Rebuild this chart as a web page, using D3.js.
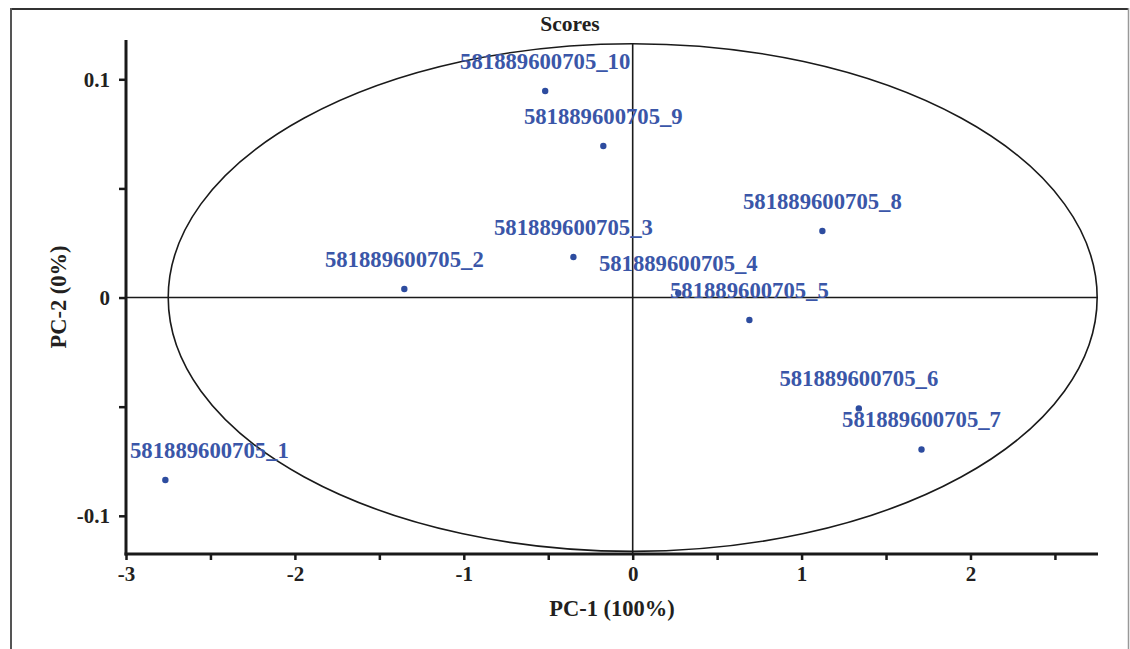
<!DOCTYPE html>
<html>
<head>
<meta charset="utf-8">
<script src="https://cdn.jsdelivr.net/npm/d3@7"></script>
<style>
  html, body { margin: 0; padding: 0; background: #fff; }
  svg { display: block; }
  text { font-family: "Liberation Serif", "Times New Roman", serif; font-weight: bold; }
</style>
</head>
<body>
<svg id="chart" width="1130" height="649"></svg>
<script>
// PCA score values (PC-1, PC-2) per sample
const sampleNames = [
  "581889600705_1", "581889600705_2", "581889600705_3", "581889600705_4", "581889600705_5",
  "581889600705_6", "581889600705_7", "581889600705_8", "581889600705_9", "581889600705_10"
];
const pc1Scores = [-2.767, -1.352, -0.351, 0.270, 0.691, 1.339, 1.710, 1.123, -0.174, -0.518];
const pc2Scores = [-0.0836, 0.0039, 0.0186, 0.0021, -0.0103, -0.0508, -0.0696, 0.0305, 0.0694, 0.0946];

// confidence ellipse radii
const ellipseRadiusX = 2.75;
const ellipseRadiusY = 0.1163;

const xTicks = [-3, -2.5, -2, -1.5, -1, -0.5, 0, 0.5, 1, 1.5, 2, 2.5];
const xTickLabels = ["-3", "", "-2", "", "-1", "", "0", "", "1", "", "2", ""];
const yTicks = [-0.1, -0.05, 0, 0.05, 0.1];
const yTickLabels = ["-0.1", "", "0", "", "0.1"];

const svg = d3.select("#chart");
const W = 1130, H = 649;
const plotLeft = 126, plotRight = 1098, plotTop = 40, plotBottom = 554;

const x = d3.scaleLinear().domain([-3, 2.755]).range([plotLeft, plotRight]);
const y = d3.scaleLinear().domain([-0.1175, 0.118]).range([plotBottom, plotTop]);

// outer frame
svg.append("line").attr("x1", 10).attr("y1", 9).attr("x2", 1129).attr("y2", 9)
  .attr("stroke", "#333").attr("stroke-width", 2);
svg.append("line").attr("x1", 11).attr("y1", 8).attr("x2", 11).attr("y2", H)
  .attr("stroke", "#555").attr("stroke-width", 2);
svg.append("line").attr("x1", 1128.5).attr("y1", 8).attr("x2", 1128.5).attr("y2", H)
  .attr("stroke", "#999").attr("stroke-width", 1.5);

// title
svg.append("text").attr("x", 570).attr("y", 31)
  .attr("text-anchor", "middle").attr("font-size", 21.5).attr("fill", "#231f20")
  .text("Scores");

// ellipse
svg.append("ellipse")
  .attr("cx", x(0)).attr("cy", y(0))
  .attr("rx", x(ellipseRadiusX) - x(0))
  .attr("ry", y(0) - y(ellipseRadiusY))
  .attr("fill", "none").attr("stroke", "#1a1a1a").attr("stroke-width", 1.6);

// zero lines
svg.append("line").attr("x1", plotLeft).attr("x2", plotRight).attr("y1", y(0)).attr("y2", y(0))
  .attr("stroke", "#1a1a1a").attr("stroke-width", 1.6);
svg.append("line").attr("x1", x(0)).attr("x2", x(0)).attr("y1", y(ellipseRadiusY)).attr("y2", plotBottom)
  .attr("stroke", "#1a1a1a").attr("stroke-width", 1.6);

// axes
const xAxis = d3.axisBottom(x).tickValues(xTicks)
  .tickFormat((d, i) => xTickLabels[i]).tickSizeInner(6).tickSizeOuter(0).tickPadding(6);
const gx = svg.append("g").attr("transform", `translate(0,${plotBottom})`).call(xAxis);
gx.select(".domain").attr("stroke", "#1a1a1a").attr("stroke-width", 3)
  .attr("d", `M${plotLeft - 1.5},0H${plotRight}`);
gx.selectAll(".tick line").attr("stroke", "#1a1a1a").attr("stroke-width", 2.5);
gx.selectAll(".tick text").attr("font-size", 21).attr("fill", "#231f20")
  .attr("font-family", "Liberation Serif").attr("font-weight", "bold")
  .attr("dy", "0.71em");

const yAxis = d3.axisLeft(y).tickValues(yTicks)
  .tickFormat((d, i) => yTickLabels[i]).tickSizeInner(7).tickSizeOuter(0).tickPadding(9);
const gy = svg.append("g").attr("transform", `translate(${plotLeft},0)`).call(yAxis);
gy.select(".domain").attr("stroke", "#1a1a1a").attr("stroke-width", 3)
  .attr("d", `M0,${plotTop}V${plotBottom + 1.5}`);
gy.selectAll(".tick line").attr("stroke", "#1a1a1a").attr("stroke-width", 2.5);
gy.selectAll(".tick text").attr("font-size", 21).attr("fill", "#231f20")
  .attr("font-family", "Liberation Serif").attr("font-weight", "bold");

// axis titles
svg.append("text").attr("x", (plotLeft + plotRight) / 2).attr("y", 616)
  .attr("text-anchor", "middle").attr("font-size", 22.5).attr("fill", "#231f20")
  .text("PC-1 (100%)");
svg.append("text")
  .attr("transform", `translate(66,${(plotTop + plotBottom) / 2}) rotate(-90)`)
  .attr("text-anchor", "middle").attr("font-size", 22.5).attr("fill", "#231f20")
  .text("PC-2 (0%)");

// sample points and labels
const samples = sampleNames.map((n, i) => ({ name: n, pc1: pc1Scores[i], pc2: pc2Scores[i] }));

svg.append("g").selectAll("circle").data(samples).join("circle")
  .attr("cx", d => x(d.pc1)).attr("cy", d => y(d.pc2)).attr("r", 3.2)
  .attr("fill", "#2d4c9f");

const labels = svg.append("g").selectAll("text").data(samples).join("text")
  .attr("y", d => y(d.pc2) - 22)
  .attr("text-anchor", "middle").attr("font-size", 22.7).attr("fill", "#3a56a8")
  .text(d => d.name);

// keep labels inside the plot area
labels.each(function (d) {
  const w = this.getComputedTextLength();
  let cx = x(d.pc1);
  cx = Math.max(cx, plotLeft + 4 + w / 2);
  cx = Math.min(cx, plotRight - 2 - w / 2);
  d3.select(this).attr("x", cx);
});
</script>
</body>
</html>
